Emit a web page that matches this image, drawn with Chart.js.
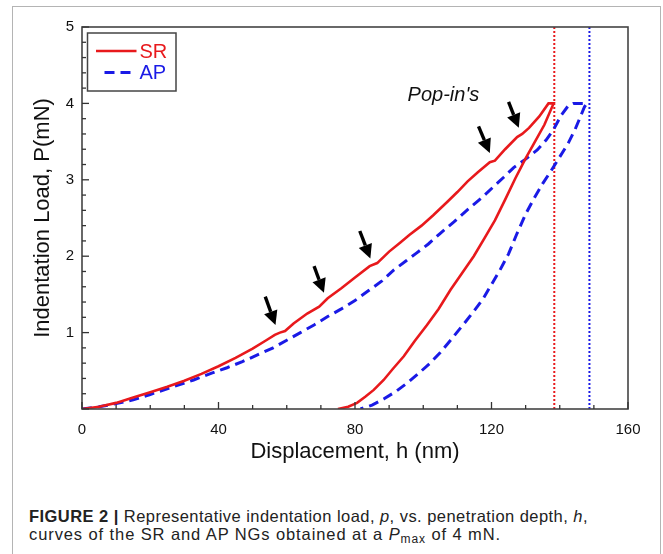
<!DOCTYPE html>
<html><head><meta charset="utf-8">
<script src="https://cdn.jsdelivr.net/npm/chart.js@4.4.0/dist/chart.umd.min.js"></script>
<style>
html,body{margin:0;padding:0;background:#fff;width:663px;height:554px;overflow:hidden;}
#frame{position:absolute;left:12px;top:6px;width:647px;height:600px;border:1.5px solid #b4b4b4;border-bottom:none;}
#c{position:absolute;left:0;top:0;}
#cap{position:absolute;left:29px;top:508px;font-family:"Liberation Sans",Arial,sans-serif;font-size:16.5px;line-height:17.5px;color:#222;white-space:nowrap;}
#cap sub{font-size:12px;line-height:0;vertical-align:-3px;}
</style></head><body>
<div id="frame"></div>
<canvas id="c" width="663" height="470"></canvas>
<div id="cap"><div id="l1"><b>FIGURE 2 |</b> Representative indentation load, <i>p</i>, vs. penetration depth, <i>h</i>,</div><div id="l2">curves of the SR and AP NGs obtained at a <i>P</i><sub>max</sub> of 4 mN.</div></div>
<script>
// ---- data (displacement h in nm, load P in mN) ----
const srLoadH = [0,5,10,15,20,25,30,35,40,45,50,54,56.5,58,59.5,62,66,69.5,72,76,80,84.3,86.5,90,93.3,96,99.5,103,107,110,113,116,119.5,121,124,127.5,129,131,134,136.7,138.2];
const srLoadP = [0,0.03,0.08,0.15,0.22,0.29,0.37,0.46,0.56,0.67,0.79,0.90,0.97,1.00,1.02,1.12,1.25,1.34,1.45,1.58,1.72,1.87,1.91,2.06,2.18,2.28,2.40,2.54,2.71,2.84,2.98,3.10,3.23,3.25,3.40,3.56,3.60,3.68,3.83,4.00,4.00];
const srUnloadH = [135.5,132.5,130,127,124,121,118,114.8,111.4,108,104.5,101.1,97.5,94.3,91,88.4,85.5,83,80.6,78,75];
const srUnloadP = [3.72,3.48,3.28,3.02,2.74,2.47,2.24,2.00,1.78,1.56,1.31,1.10,0.89,0.69,0.52,0.38,0.25,0.16,0.08,0.03,0];
const apLoadH = [0,5,10,15,20,26,32.7,38,42.5,47,52,56,60,64,68,72,76,80,84,88,91.4,95,98,101.5,105,109,113,117,120.6,123.5,126.5,130,133.4,136,138.2,140.5,142.5,144,147.9];
const apLoadP = [0,0.03,0.07,0.12,0.19,0.28,0.38,0.47,0.54,0.62,0.72,0.80,0.90,1.00,1.10,1.21,1.31,1.42,1.55,1.68,1.82,1.94,2.04,2.16,2.30,2.45,2.61,2.76,2.91,3.03,3.16,3.27,3.39,3.52,3.66,3.85,3.97,4.00,4.00];
const apUnloadH = [147.2,146,144.5,142.5,140,137.5,135,132.5,130,127.5,125,122.5,120,117.5,115,112,108,105,102,98.5,95.3,92,88.4,85,81.6];
const apUnloadP = [3.95,3.82,3.66,3.48,3.30,3.12,2.95,2.76,2.55,2.30,2.03,1.82,1.63,1.44,1.29,1.12,0.90,0.74,0.60,0.46,0.34,0.23,0.13,0.05,0];
const seriesNames = ['SR','AP'];
const pmaxDepth = [138.4, 148.7];          // h at Pmax (dotted verticals)
const xTickValues = [0,40,80,120,160];
const yTickValues = [1,2,3,4,5];
// pop-in arrows: tail and tip in data coordinates
const arrowTailH = [53.7,68.0,81.4,116.2,125.0];
const arrowTailP = [1.47,1.87,2.33,3.70,4.02];
const arrowTipH  = [56.7,70.9,84.5,119.5,128.0];
const arrowTipP  = [1.10,1.52,1.97,3.35,3.68];
const popInLabel = "Pop-in's";
const popInAt = [105.9, 4.11];

const RED = '#e8191c', BLUE = '#1a1ae6', INK = '#111';
const pts = (hs, ps) => hs.map((h,i)=>({x:h, y:ps[i]}));
const srPts = pts(srLoadH, srLoadP).concat(pts(srUnloadH, srUnloadP));
const apPts = pts(apLoadH, apLoadP).concat(pts(apUnloadH, apUnloadP));

const decor = {
  id:'decor',
  afterDatasetsDraw(chart){
    const {ctx, chartArea:a, scales:{x, y}} = chart;
    ctx.save();
    // frame
    ctx.strokeStyle = '#444'; ctx.lineWidth = 1.6; ctx.setLineDash([]);
    ctx.strokeRect(a.left, a.top, a.right-a.left, a.bottom-a.top);
    // inward ticks
    ctx.lineWidth = 1.3; ctx.strokeStyle = '#333';
    for (let v = 0; v <= 160.001; v += 10) {
      const px = x.getPixelForValue(v), len = (Math.abs(v % 40) < 1e-6) ? 7 : 4;
      ctx.beginPath(); ctx.moveTo(px, a.bottom); ctx.lineTo(px, a.bottom - len); ctx.stroke();
    }
    for (let i = 0; i <= 25; i++) {
      const v = i * 0.2, py = y.getPixelForValue(v), len = (i % 5 === 0) ? 7 : 4;
      ctx.beginPath(); ctx.moveTo(a.left, py); ctx.lineTo(a.left + len, py); ctx.stroke();
    }
    // arrows
    ctx.fillStyle = '#000'; ctx.strokeStyle = '#000';
    arrowTipH.forEach((_, i) => {
      const x1 = x.getPixelForValue(arrowTailH[i]), y1 = y.getPixelForValue(arrowTailP[i]);
      const x2 = x.getPixelForValue(arrowTipH[i]),  y2 = y.getPixelForValue(arrowTipP[i]);
      const ang = Math.atan2(y2-y1, x2-x1), hl = 14, hw = 7;
      const bx = x2 - hl*Math.cos(ang), by = y2 - hl*Math.sin(ang);
      ctx.lineWidth = 3.4; ctx.beginPath(); ctx.moveTo(x1,y1); ctx.lineTo(bx,by); ctx.stroke();
      ctx.beginPath(); ctx.moveTo(x2,y2);
      ctx.lineTo(bx + hw*Math.sin(ang), by - hw*Math.cos(ang));
      ctx.lineTo(bx - hw*Math.sin(ang), by + hw*Math.cos(ang));
      ctx.closePath(); ctx.fill();
    });
    // label
    ctx.font = 'italic 20px "Liberation Sans", Arial, sans-serif';
    ctx.fillStyle = INK; ctx.textAlign = 'center'; ctx.textBaseline = 'middle';
    ctx.fillText(popInLabel, x.getPixelForValue(popInAt[0]), y.getPixelForValue(popInAt[1]));
    // legend box
    const lx = a.left + 5.5, ly = a.top + 6, lw = 88.5, lh = 58;
    ctx.fillStyle = '#fff'; ctx.fillRect(lx, ly, lw, lh);
    ctx.strokeStyle = '#444'; ctx.lineWidth = 1.5; ctx.strokeRect(lx, ly, lw, lh);
    const ds = chart.data.datasets.filter(d => d.inLegend);
    ctx.font = '20px "Liberation Sans", Arial, sans-serif'; ctx.textAlign = 'left';
    ds.forEach((d, i) => {
      const yy = ly + 18 + i*21.5;
      ctx.strokeStyle = d.borderColor; ctx.lineWidth = d.borderWidth;
      ctx.setLineDash(d.borderDash || []);
      ctx.beginPath();
      if (d.borderDash && d.borderDash.length) { ctx.moveTo(lx+17, yy); ctx.lineTo(lx+46, yy); }
      else { ctx.moveTo(lx+8.5, yy); ctx.lineTo(lx+49, yy); }
      ctx.stroke(); ctx.setLineDash([]);
      ctx.fillStyle = d.borderColor; ctx.fillText(d.label, lx + 52, yy + 1);
    });
    ctx.restore();
  }
};

new Chart(document.getElementById('c'), {
  type: 'scatter',
  data: { datasets: [
    { label: seriesNames[0], data: srPts, showLine: true, borderColor: RED, borderWidth: 2.6, pointRadius: 0, tension: 0, inLegend: true },
    { label: seriesNames[1], data: apPts, showLine: true, borderColor: BLUE, borderWidth: 3, borderDash: [10,6], pointRadius: 0, tension: 0, inLegend: true },
    { label: 'SR Pmax', data: [{x:pmaxDepth[0], y:0},{x:pmaxDepth[0], y:5}], showLine: true, borderColor: RED, borderWidth: 2, borderDash: [2,2], pointRadius: 0 },
    { label: 'AP Pmax', data: [{x:pmaxDepth[1], y:0},{x:pmaxDepth[1], y:5}], showLine: true, borderColor: BLUE, borderWidth: 2, borderDash: [2,2], pointRadius: 0 }
  ]},
  options: {
    responsive: false, animation: false, devicePixelRatio: 1,
    layout: { padding: { left: 0, right: 35, top: 27, bottom: 0 } },
    plugins: { legend: { display: false }, tooltip: { enabled: false } },
    scales: {
      x: { type: 'linear', min: 0, max: 160,
        afterBuildTicks: s => { s.ticks = xTickValues.map(v => ({value: v})); },
        afterFit: s => { s.height = 61; },
        grid: { display: false, drawTicks: false }, border: { display: false },
        ticks: { padding: 12, color: INK, font: { family: '"Liberation Sans", Arial, sans-serif', size: 15 }, maxRotation: 0 },
        title: { display: true, text: 'Displacement, h (nm)', color: INK, padding: { top: 0, bottom: 5 }, font: { family: '"Liberation Sans", Arial, sans-serif', size: 22 } } },
      y: { type: 'linear', min: 0, max: 5,
        afterBuildTicks: s => { s.ticks = yTickValues.map(v => ({value: v})); },
        afterFit: s => { s.width = 82; },
        grid: { display: false, drawTicks: false }, border: { display: false },
        ticks: { padding: 8, color: INK, font: { family: '"Liberation Sans", Arial, sans-serif', size: 15 } },
        title: { display: true, text: 'Indentation Load, P(mN)', color: INK, padding: { top: 30, bottom: 0 }, font: { family: '"Liberation Sans", Arial, sans-serif', size: 22 } } }
    }
  },
  plugins: [decor]
});

// fit caption lines to the reference widths
function fitLine(id, target){
  const el = document.getElementById(id);
  el.style.display = 'inline-block';
  const w = el.getBoundingClientRect().width;
  const n = el.textContent.length;
  const ls = Math.max(-1, Math.min(1, (target - w) / n));
  el.style.letterSpacing = ls + 'px';
  el.style.display = 'block';
}
fitLine('l1', 559); fitLine('l2', 472);
</script>
</body></html>
